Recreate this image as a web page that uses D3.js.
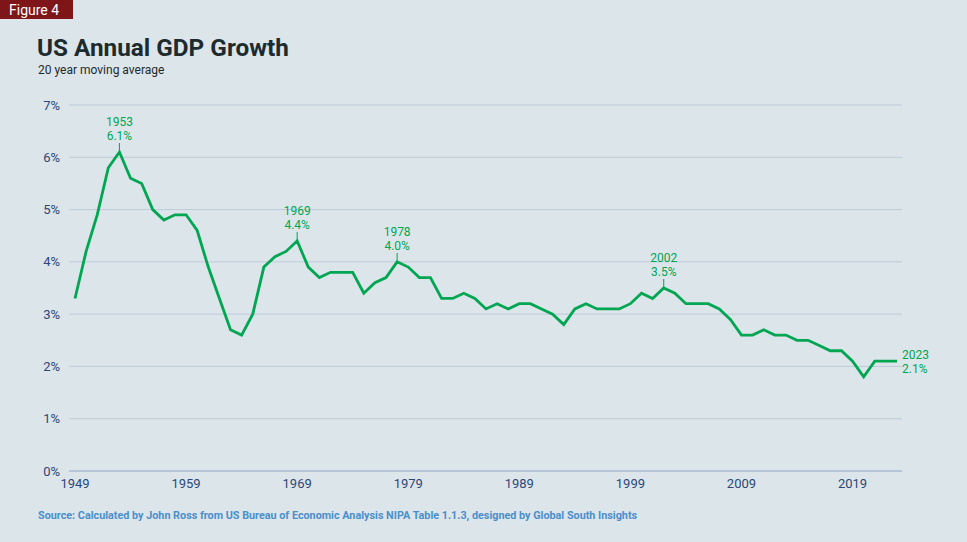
<!DOCTYPE html>
<html><head><meta charset="utf-8">
<script src="https://cdn.jsdelivr.net/npm/d3@7"></script>
<style>
html,body{margin:0;padding:0;background:#dce5ea;}
svg{display:block;font-family:Roboto,"Noto Sans",sans-serif;}
</style></head>
<body><svg id="c" width="967" height="542"></svg>
<script>
const years = d3.range(1949, 2024);
const growth = [3.3,4.2,4.9,5.8,6.1,5.6,5.5,5.0,4.8,4.9,
  4.9,4.6,3.9,3.3,2.7,2.6,3.0,3.9,4.1,4.2,
  4.4,3.9,3.7,3.8,3.8,3.8,3.4,3.6,3.7,4.0,
  3.9,3.7,3.7,3.3,3.3,3.4,3.3,3.1,3.2,3.1,
  3.2,3.2,3.1,3.0,2.8,3.1,3.2,3.1,3.1,3.1,
  3.2,3.4,3.3,3.5,3.4,3.2,3.2,3.2,3.1,2.9,
  2.6,2.6,2.7,2.6,2.6,2.5,2.5,2.4,2.3,2.3,
  2.1,1.8,2.1,2.1,2.1];
const yTicks = [0,1,2,3,4,5,6,7];
const xTicks = [1949,1959,1969,1979,1989,1999,2009,2019];
const annotations = [1953,1969,1978,2002];
const endLabel = 2023;

const svg = d3.select("#c");
const x = d3.scaleLinear().domain([1949, 2023]).range([75, 897]);
const y = d3.scaleLinear().domain([0, 7]).range([471, 105]);
const green = "#00a651";

// badge
svg.append("rect").attr("x",0).attr("y",0).attr("width",73).attr("height",19).attr("fill","#7e1519");
svg.append("text").attr("x",9).attr("y",14.5).attr("fill","#fff").attr("font-size",14).text("Figure 4");

svg.append("text").attr("x",37).attr("y",56).attr("fill","#1d2b2e").attr("font-size",24.3)
  .attr("font-weight",700).text("US Annual GDP Growth");
svg.append("text").attr("x",38).attr("y",74).attr("fill","#1d2b2e").attr("font-size",12).text("20 year moving average");

// grid
const g = svg.append("g");
g.selectAll("line.grid").data(yTicks.filter(d=>d>0)).join("line")
  .attr("x1",69).attr("x2",902).attr("y1",d=>y(d)).attr("y2",d=>y(d))
  .attr("stroke","#bccbd9").attr("stroke-width",1);
g.append("line").attr("x1",69).attr("x2",902).attr("y1",y(0)).attr("y2",y(0))
  .attr("stroke","#8fa3c4").attr("stroke-width",1.2);

g.selectAll("text.yl").data(yTicks).join("text")
  .attr("x",60).attr("y",d=>y(d)).attr("dy","0.35em").attr("text-anchor","end")
  .attr("fill","#2d4778").attr("font-size",13).text(d=>d+"%");

g.selectAll("text.xl").data(xTicks).join("text")
  .attr("x",d=>x(d)).attr("y",488).attr("text-anchor","middle")
  .attr("fill","#2d4778").attr("font-size",13).text(d=>d);

// line
const data = years.map((yr,i)=>({yr, v:growth[i]}));
svg.append("path").datum(data)
  .attr("fill","none").attr("stroke",green).attr("stroke-width",2.8)
  .attr("stroke-linejoin","miter")
  .attr("d", d3.line().x(d=>x(d.yr)).y(d=>y(d.v)));

// annotations
annotations.forEach(yr=>{
  const v = growth[years.indexOf(yr)];
  const px = x(yr), py = y(v);
  svg.append("line").attr("x1",px).attr("x2",px).attr("y1",py-9).attr("y2",py-1)
    .attr("stroke",green).attr("stroke-width",1);
  svg.append("text").attr("x",px).attr("y",py-26).attr("text-anchor","middle")
    .attr("fill",green).attr("font-size",12).text(yr);
  svg.append("text").attr("x",px).attr("y",py-12).attr("text-anchor","middle")
    .attr("fill",green).attr("font-size",12).text(v.toFixed(1)+"%");
});
{
  const v = growth[years.indexOf(endLabel)];
  const px = x(endLabel)+5, py = y(v);
  svg.append("text").attr("x",px).attr("y",py-2).attr("fill",green).attr("font-size",12).text(endLabel);
  svg.append("text").attr("x",px).attr("y",py+12).attr("fill",green).attr("font-size",12).text(v.toFixed(1)+"%");
}

svg.append("text").attr("x",38).attr("y",519).attr("fill","#4a8fcc").attr("font-size",10.8)
  .attr("font-weight",700)
  .text("Source: Calculated by John Ross from US Bureau of Economic Analysis NIPA Table 1.1.3, designed by Global South Insights");
</script></body></html>
